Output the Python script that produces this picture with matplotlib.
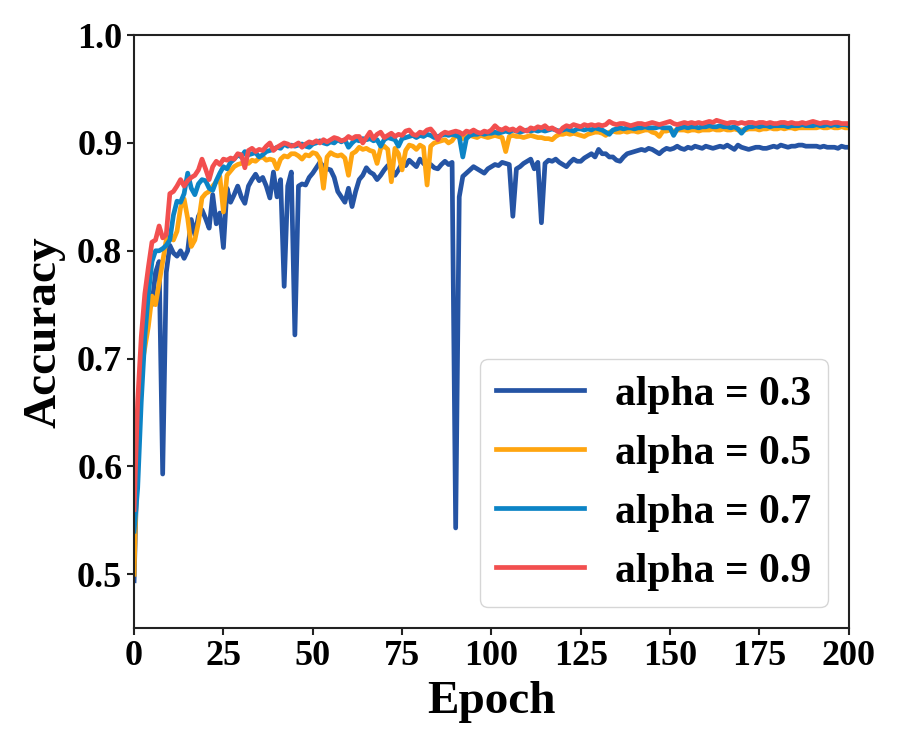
import numpy as np
import matplotlib
matplotlib.use("Agg")
import matplotlib.pyplot as plt

plt.rcParams['font.family'] = ['Liberation Serif', 'DejaVu Serif']
plt.rcParams['font.weight'] = 'bold'

epochs = np.arange(0, 201)

acc_03 = [
    0.494, 0.62, 0.70, 0.74, 0.76, 0.75, 0.78, 0.79, 0.593, 0.78,
    0.805, 0.798, 0.795, 0.80, 0.793, 0.80, 0.829, 0.815, 0.832, 0.838,
    0.83, 0.821, 0.852, 0.825, 0.835, 0.803, 0.858, 0.845, 0.852, 0.86,
    0.85, 0.844, 0.86, 0.866, 0.871, 0.865, 0.868, 0.86, 0.849, 0.873,
    0.85, 0.866, 0.767, 0.86, 0.873, 0.722, 0.86, 0.862, 0.861, 0.868,
    0.872, 0.877, 0.882, 0.878, 0.876, 0.875, 0.868, 0.855, 0.85, 0.845,
    0.858, 0.841, 0.855, 0.866, 0.87, 0.877, 0.873, 0.871, 0.866, 0.87,
    0.875, 0.879, 0.877, 0.87, 0.875, 0.881, 0.879, 0.884, 0.881, 0.878,
    0.885, 0.881, 0.878, 0.88, 0.877, 0.876, 0.88, 0.883, 0.88, 0.882,
    0.543, 0.85, 0.869, 0.872, 0.875, 0.878, 0.876, 0.874, 0.872, 0.876,
    0.878, 0.88, 0.879, 0.882, 0.881, 0.88, 0.832, 0.876, 0.878, 0.881,
    0.883, 0.885, 0.876, 0.882, 0.826, 0.881, 0.884, 0.883, 0.885, 0.882,
    0.88, 0.878, 0.882, 0.885, 0.883, 0.883, 0.886, 0.888, 0.89, 0.887,
    0.894, 0.89, 0.89, 0.887, 0.887, 0.884, 0.883, 0.887, 0.89, 0.891,
    0.892, 0.893, 0.894, 0.893, 0.895, 0.894, 0.892, 0.89, 0.893, 0.895,
    0.894, 0.895, 0.897, 0.895, 0.894, 0.896, 0.895, 0.897, 0.896, 0.895,
    0.897, 0.896, 0.895, 0.896, 0.897, 0.896, 0.898, 0.896, 0.894, 0.898,
    0.896, 0.895, 0.894, 0.895, 0.896, 0.896, 0.895, 0.895, 0.896, 0.897,
    0.896, 0.898, 0.897, 0.896, 0.897, 0.897, 0.898, 0.898, 0.897, 0.897,
    0.897, 0.897, 0.896, 0.897, 0.896, 0.896, 0.896, 0.895, 0.897, 0.896,
    0.896,
]

acc_05 = [
    0.50, 0.63, 0.69, 0.71, 0.73, 0.758, 0.75, 0.77, 0.79, 0.81,
    0.813, 0.81, 0.818, 0.84, 0.848, 0.83, 0.804, 0.81, 0.826, 0.849,
    0.853, 0.855, 0.86, 0.864, 0.869, 0.836, 0.87, 0.874, 0.878, 0.88,
    0.881, 0.882, 0.881, 0.884, 0.883, 0.886, 0.887, 0.884, 0.885, 0.884,
    0.876, 0.885, 0.888, 0.887, 0.89, 0.89, 0.888, 0.885, 0.889, 0.888,
    0.891, 0.89, 0.885, 0.858, 0.887, 0.891, 0.889, 0.888, 0.889, 0.886,
    0.87, 0.89, 0.892, 0.896, 0.894, 0.895, 0.893, 0.892, 0.881, 0.895,
    0.897, 0.894, 0.864, 0.895, 0.89, 0.875, 0.893, 0.898, 0.897, 0.894,
    0.898, 0.896, 0.861, 0.897, 0.90, 0.901, 0.902, 0.903, 0.90, 0.902,
    0.907, 0.905, 0.904, 0.906, 0.907, 0.906, 0.905, 0.907, 0.906, 0.905,
    0.906, 0.907, 0.906, 0.905, 0.892, 0.906, 0.907, 0.906, 0.906, 0.905,
    0.906, 0.907, 0.906, 0.905, 0.905, 0.904, 0.904, 0.903, 0.906, 0.908,
    0.908, 0.909, 0.908, 0.909, 0.908, 0.907, 0.906, 0.908, 0.909, 0.91,
    0.91, 0.909, 0.907, 0.91, 0.911, 0.91, 0.91, 0.911, 0.91, 0.911,
    0.911, 0.91, 0.911, 0.912, 0.912, 0.91, 0.909, 0.906, 0.911, 0.911,
    0.912, 0.911, 0.912, 0.912, 0.912, 0.911, 0.912, 0.912, 0.911, 0.912,
    0.912, 0.912, 0.913, 0.912, 0.912, 0.913, 0.912, 0.912, 0.913, 0.912,
    0.912, 0.912, 0.913, 0.913, 0.913, 0.912, 0.913, 0.913, 0.914, 0.913,
    0.913, 0.914, 0.913, 0.914, 0.914, 0.913, 0.914, 0.914, 0.914, 0.914,
    0.914, 0.914, 0.915, 0.914, 0.914, 0.915, 0.914, 0.914, 0.915, 0.914,
    0.914,
]

acc_07 = [
    0.54, 0.58, 0.66, 0.72, 0.76, 0.79, 0.80, 0.80, 0.802, 0.805,
    0.81, 0.833, 0.846, 0.845, 0.853, 0.872, 0.858, 0.852, 0.862, 0.866,
    0.865, 0.858, 0.856, 0.865, 0.872, 0.878, 0.876, 0.882, 0.885, 0.889,
    0.887, 0.892, 0.889, 0.89, 0.891, 0.887, 0.889, 0.892, 0.893, 0.894,
    0.896, 0.895, 0.899, 0.897, 0.898, 0.897, 0.898, 0.899, 0.897, 0.896,
    0.899, 0.90, 0.902, 0.90, 0.899, 0.901, 0.90, 0.903, 0.901, 0.903,
    0.896, 0.90, 0.903, 0.902, 0.904, 0.903, 0.904, 0.902, 0.903, 0.897,
    0.903, 0.905, 0.904, 0.903, 0.897, 0.904, 0.905, 0.906, 0.907, 0.905,
    0.907, 0.906, 0.908, 0.907, 0.905, 0.906, 0.907, 0.908, 0.907, 0.908,
    0.907, 0.906, 0.887, 0.904, 0.907, 0.908, 0.908, 0.909, 0.908, 0.909,
    0.909, 0.91, 0.909, 0.91, 0.911, 0.91, 0.912, 0.911, 0.91, 0.911,
    0.912, 0.911, 0.912, 0.911, 0.912, 0.911, 0.912, 0.913, 0.912, 0.911,
    0.912, 0.913, 0.912, 0.911, 0.913, 0.913, 0.912, 0.913, 0.912, 0.914,
    0.913, 0.912, 0.91, 0.908, 0.912, 0.913, 0.914, 0.913, 0.914, 0.914,
    0.913, 0.914, 0.914, 0.915, 0.914, 0.914, 0.914, 0.915, 0.914, 0.914,
    0.914, 0.907, 0.913, 0.914, 0.915, 0.914, 0.915, 0.915, 0.914, 0.915,
    0.915, 0.916, 0.915, 0.915, 0.916, 0.915, 0.915, 0.914, 0.915, 0.913,
    0.909, 0.913, 0.915, 0.915, 0.916, 0.915, 0.916, 0.916, 0.915, 0.916,
    0.916, 0.916, 0.916, 0.915, 0.916, 0.916, 0.916, 0.917, 0.916, 0.916,
    0.916, 0.917, 0.916, 0.916, 0.917, 0.916, 0.917, 0.916, 0.917, 0.917,
    0.916,
]

acc_09 = [
    0.56, 0.66, 0.72, 0.76, 0.785, 0.808, 0.81, 0.823, 0.812, 0.815,
    0.853, 0.855, 0.86, 0.866, 0.86, 0.865, 0.868, 0.87, 0.875, 0.885,
    0.876, 0.866, 0.878, 0.883, 0.88, 0.885, 0.884, 0.886, 0.885, 0.89,
    0.889, 0.877, 0.893, 0.895, 0.892, 0.894, 0.893, 0.897, 0.90, 0.893,
    0.896, 0.898, 0.90, 0.899, 0.897, 0.898, 0.90, 0.896, 0.899, 0.901,
    0.90, 0.902, 0.90, 0.903, 0.901, 0.903, 0.905, 0.904, 0.902, 0.903,
    0.906, 0.904, 0.906, 0.906, 0.90, 0.905, 0.91, 0.904, 0.908, 0.91,
    0.905, 0.907, 0.909, 0.906, 0.908, 0.907, 0.911, 0.912, 0.908, 0.907,
    0.91, 0.909, 0.912, 0.913, 0.909, 0.903, 0.908, 0.91, 0.909, 0.91,
    0.911, 0.91, 0.908, 0.911, 0.91, 0.912, 0.91, 0.909, 0.911, 0.91,
    0.912, 0.916, 0.913, 0.912, 0.914, 0.912, 0.913, 0.911, 0.914, 0.912,
    0.911, 0.914, 0.913, 0.915, 0.914, 0.916, 0.913, 0.914, 0.912, 0.91,
    0.914, 0.916, 0.915, 0.917, 0.916, 0.915, 0.917, 0.916, 0.917, 0.916,
    0.917, 0.916, 0.917, 0.92, 0.918, 0.917, 0.918, 0.918, 0.917, 0.916,
    0.917, 0.918, 0.918, 0.917, 0.918, 0.919, 0.918, 0.917, 0.918, 0.919,
    0.92, 0.918, 0.917, 0.918, 0.919, 0.918, 0.919, 0.918, 0.919, 0.918,
    0.919, 0.92, 0.919, 0.921, 0.92, 0.919, 0.918, 0.919, 0.919, 0.918,
    0.919, 0.918, 0.919, 0.919, 0.918, 0.919, 0.919, 0.918, 0.919, 0.918,
    0.918, 0.919, 0.919, 0.918, 0.919, 0.918, 0.918, 0.919, 0.918, 0.919,
    0.92, 0.919, 0.918, 0.919, 0.919, 0.918, 0.919, 0.919, 0.918, 0.918,
    0.918,
]

series = [
    (acc_03, 'alpha = 0.3', '#2554a4'),
    (acc_05, 'alpha = 0.5', '#ffa510'),
    (acc_07, 'alpha = 0.7', '#0c84c6'),
    (acc_09, 'alpha = 0.9', '#f24f4f'),
]

fig = plt.figure(figsize=(9, 7.47), dpi=100)
ax = fig.add_axes([0.149, 0.159, 0.794, 0.794])

for vals, name, col in series:
    ax.plot(epochs, vals, color=col, lw=3.4, label=name)

ax.set_xlim(0, 200)
ax.set_ylim(0.45, 1.0)
ax.set_xticks(np.arange(0, 201, 25))
ax.set_yticks([0.5, 0.6, 0.7, 0.8, 0.9, 1.0])
ax.tick_params(labelsize=26, width=1.5, length=5, color='#222222')
for lab in ax.get_xticklabels() + ax.get_yticklabels():
    lab.set_fontweight('bold')
for sp in ax.spines.values():
    sp.set_linewidth(1.5)
    sp.set_color('#222222')

ax.set_xlabel('Epoch', fontsize=34, fontweight='bold', labelpad=6)
ax.set_ylabel('Accuracy', fontsize=34, fontweight='bold', labelpad=8)

leg = ax.legend(loc='lower right', prop={'size': 30, 'weight': 'bold'},
                handlelength=2.1, handletextpad=0.75, labelspacing=0.5)

fig.savefig('out.png', dpi=100)
